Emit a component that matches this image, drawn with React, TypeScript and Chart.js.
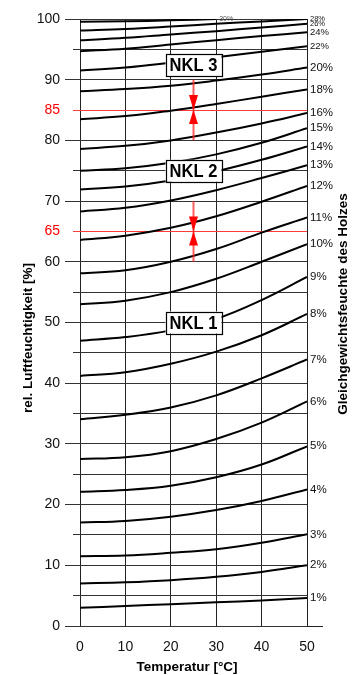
import React, { useEffect, useRef } from 'react';
import { Chart, registerables } from 'chart.js';

Chart.register(...registerables);

// Temperature (°C) sample positions
const temps = [0, 10, 20, 30, 40, 50];

// Relative humidity [%] along each equilibrium-moisture isoline
const emc1 = [3.0, 3.3, 3.6, 3.9, 4.2, 4.6];
const emc2 = [7.0, 7.2, 7.55, 8.1, 8.9, 10.0];
const emc3 = [11.5, 11.6, 12.05, 12.65, 13.7, 15.1];
const emc4 = [17.05, 17.3, 18.0, 19.1, 20.6, 22.5];
const emc5 = [22.1, 22.4, 23.1, 24.5, 26.6, 29.6];
const emc6 = [27.5, 27.8, 28.8, 30.8, 33.5, 37.0];
const emc7 = [34.05, 34.8, 36.0, 38.0, 40.8, 43.9];
const emc8 = [41.2, 41.8, 43.2, 45.2, 47.9, 51.4];
const emc9 = [47.0, 47.6, 48.7, 50.6, 53.7, 57.5];
const emc10 = [53.0, 53.6, 55.0, 57.2, 60.0, 62.9];
const emc11 = [58.1, 58.6, 60.0, 62.1, 64.8, 67.3];
const emc12 = [63.6, 64.3, 65.6, 67.5, 69.9, 72.5];
const emc13 = [68.3, 68.9, 70.1, 71.8, 73.8, 75.9];
const emc14 = [71.9, 72.4, 73.4, 74.9, 76.8, 79.0];
const emc15 = [75.0, 75.4, 76.3, 77.7, 79.6, 82.0];
const emc16 = [78.6, 79.1, 80.0, 81.3, 82.8, 84.5];
const emc18 = [83.5, 84.0, 84.9, 86.0, 87.2, 88.4];
const emc20 = [88.1, 88.45, 89.0, 89.85, 90.85, 92.0];
const emc22 = [91.5, 92.0, 92.8, 93.7, 94.6, 95.5];
const emc24 = [94.7, 95.1, 95.8, 96.5, 97.2, 97.8];
const emc26 = [96.5, 96.9, 97.45, 98.0, 98.6, 99.2];
const emc28 = [98.1, 98.35, 98.75, 99.2, 99.6, 100];
const emc30 = [99.55, 99.62, 99.78, 100, null, null];

const seriesLabels = ['1%', '2%', '3%', '4%', '5%', '6%', '7%', '8%', '9%', '10%', '11%', '12%', '13%', '14%', '15%', '16%', '18%', '20%', '22%', '24%', '26%', '28%', '30%'];
const seriesValues = [emc1, emc2, emc3, emc4, emc5, emc6, emc7, emc8, emc9, emc10, emc11, emc12, emc13, emc14, emc15, emc16, emc18, emc20, emc22, emc24, emc26, emc28, emc30];

// Red humidity limits and the NKL (service class) markers
const redLevels = [85, 65];
const arrowX = 25;
const arrowSpans = [[90, 85, 80], [70, 65, 60]];
const nklLabels = ['NKL 3', 'NKL 2', 'NKL 1'];
const nklX = 25;
const nklY = [92.4, 75, 50];

const xTitle = 'Temperatur [°C]';
const yTitle = 'rel. Luftfeuchtigkeit [%]';
const y2Title = 'Gleichgewichtsfeuchte des Holzes';

const FONT = '"Liberation Sans", Arial, Helvetica, sans-serif';

const overlay = {
  id: 'overlay',
  afterDatasetsDraw(chart: any) {
    const { ctx, chartArea, scales } = chart;
    const x = scales.x;
    const y = scales.y;
    ctx.save();

    // x-axis line extension beyond 50
    const y0 = Math.round(y.getPixelForValue(0)) + 0.5;
    ctx.strokeStyle = '#222';
    ctx.lineWidth = 1;
    ctx.beginPath();
    ctx.moveTo(chartArea.right, y0);
    ctx.lineTo(chartArea.right + 16, y0);
    ctx.stroke();

    // red arrows
    for (const [top, mid, bot] of arrowSpans) {
      const ax = x.getPixelForValue(arrowX);
      const yt = y.getPixelForValue(top);
      const ym = y.getPixelForValue(mid);
      const yb = y.getPixelForValue(bot);
      ctx.strokeStyle = 'rgba(255,40,40,0.75)';
      ctx.lineWidth = 2;
      ctx.beginPath();
      ctx.moveTo(ax, yt);
      ctx.lineTo(ax, yb);
      ctx.stroke();
      ctx.fillStyle = '#ff0000';
      ctx.beginPath();
      ctx.moveTo(ax - 4.5, ym - 15);
      ctx.lineTo(ax + 4.5, ym - 15);
      ctx.lineTo(ax, ym);
      ctx.closePath();
      ctx.fill();
      ctx.beginPath();
      ctx.moveTo(ax - 4.5, ym + 14);
      ctx.lineTo(ax + 4.5, ym + 14);
      ctx.lineTo(ax, ym);
      ctx.closePath();
      ctx.fill();
    }

    // NKL boxes
    nklLabels.forEach((label, i) => {
      const cx = x.getPixelForValue(nklX);
      const cy = y.getPixelForValue(nklY[i]);
      const w = 56;
      const h = 22;
      ctx.fillStyle = '#fff';
      ctx.fillRect(cx - w / 2, cy - h / 2, w, h);
      ctx.strokeStyle = '#000';
      ctx.lineWidth = 1.2;
      ctx.strokeRect(Math.round(cx - w / 2) + 0.5, Math.round(cy - h / 2) + 0.5, w, h);
      ctx.save();
      ctx.translate(cx, cy + 1);
      ctx.scale(0.87, 1);
      ctx.font = 'bold 19px ' + FONT;
      ctx.fillStyle = '#000';
      ctx.textAlign = 'center';
      ctx.textBaseline = 'middle';
      ctx.fillText(label, 0, 0);
      ctx.restore();
    });

    // curve labels at the end of each isoline
    seriesValues.forEach((vals, i) => {
      let last = vals.length - 1;
      while (last >= 0 && vals[last] == null) last--;
      const px = x.getPixelForValue(temps[last]);
      const py = y.getPixelForValue(vals[last] as number);
      const v = parseInt(seriesLabels[i], 10);
      const size = v >= 30 ? 7 : v >= 26 ? 7.5 : v >= 22 ? 9.5 : 11.5;
      ctx.font = size + 'px ' + FONT;
      ctx.fillStyle = v >= 30 ? '#555' : '#111';
      ctx.textAlign = 'left';
      ctx.textBaseline = 'middle';
      ctx.fillText(seriesLabels[i], px + 3, py);
    });

    // axis titles
    ctx.fillStyle = '#000';
    ctx.font = 'bold 13.5px ' + FONT;
    ctx.textAlign = 'center';
    ctx.textBaseline = 'middle';
    ctx.fillText(xTitle, 187, 667);

    ctx.save();
    ctx.translate(28, 338);
    ctx.rotate(-Math.PI / 2);
    ctx.fillText(yTitle, 0, 0);
    ctx.restore();

    ctx.save();
    ctx.translate(343, 304);
    ctx.rotate(-Math.PI / 2);
    ctx.fillText(y2Title, 0, 0);
    ctx.restore();

    ctx.restore();
  },
};

export default function App() {
  const ref = useRef<HTMLCanvasElement | null>(null);

  useEffect(() => {
    if (!ref.current) return;
    Chart.defaults.font.family = FONT;
    const datasets = seriesValues.map((vals, i) => ({
      label: seriesLabels[i],
      data: temps.map((t, j) => ({ x: t, y: vals[j] })),
      borderColor: '#000',
      borderWidth: 2,
      pointRadius: 0,
      fill: false,
      tension: 0.4,
    }));

    const chart = new Chart(ref.current, {
      type: 'line',
      data: { datasets },
      plugins: [overlay],
      options: {
        animation: false,
        responsive: false,
        devicePixelRatio: 1,
        layout: { padding: { left: 0, right: 57, top: 19, bottom: 0 } },
        plugins: {
          legend: { display: false },
          tooltip: { enabled: false },
        },
        scales: {
          x: {
            type: 'linear',
            min: 0,
            max: 50,
            ticks: {
              stepSize: 10,
              padding: 13,
              color: '#111',
              font: { size: 14 },
            },
            grid: { color: '#222', lineWidth: 1, drawTicks: false },
            border: { display: false },
            afterFit: (s: any) => {
              s.height = 49;
            },
          },
          y: {
            type: 'linear',
            min: 0,
            max: 100,
            ticks: {
              stepSize: 5,
              autoSkip: false,
              padding: 5,
              font: { size: 14 },
              color: (c: any) => (redLevels.includes(c.tick.value) ? '#ff0000' : '#111'),
              callback: (v: any) =>
                v % 10 === 0 || redLevels.includes(v) ? String(v) : '',
            },
            grid: {
              lineWidth: 1,
              tickLength: 15,
              color: (c: any) => (c.tick && redLevels.includes(c.tick.value) ? '#ff3b3b' : '#333'),
              tickColor: (c: any) => (c.tick && redLevels.includes(c.tick.value) ? '#ff3b3b' : '#333'),
              tickBorderDash: (c: any) => (c.tick && c.tick.value % 10 === 0 ? [] : [0, 8, 7, 100]),
            },
            border: { display: false },
            afterFit: (s: any) => {
              s.width = 80;
            },
          },
        },
      },
    });
    return () => chart.destroy();
  }, []);

  return (
    <div style={{ position: 'fixed', left: 0, top: 0, width: 364, height: 675, background: '#fff' }}>
      <canvas ref={ref} width={364} height={675} style={{ display: 'block' }} />
    </div>
  );
}
